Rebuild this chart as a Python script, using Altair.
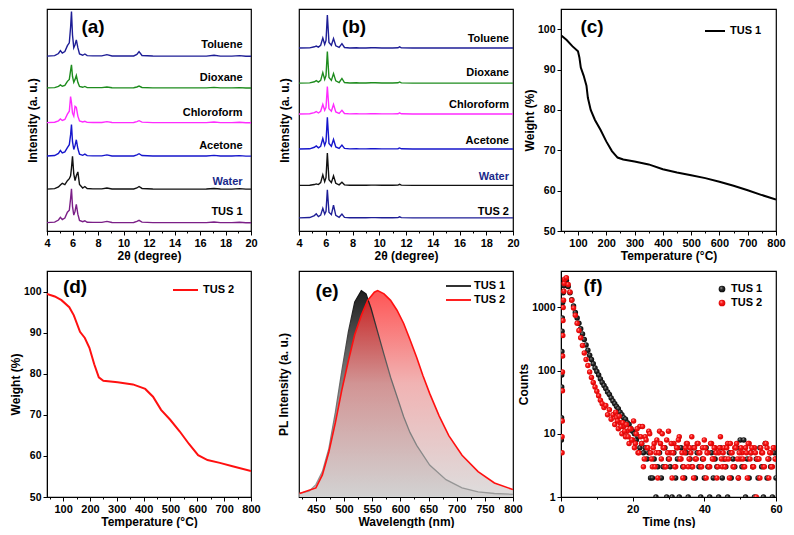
import altair as alt
import pandas as pd

FONT = "Liberation Sans"

# ---------------- (a) PXRD of TUS 1 after solvent treatment ----------------
XRD_A_X = [4.0, 4.6, 4.9, 5.05, 5.2, 5.4, 5.6, 5.75, 5.85, 5.92, 6.0, 6.1, 6.2, 6.3, 6.42,
           6.55, 6.8, 6.97, 7.15, 7.6, 8.3, 8.7, 9.1, 10.0, 10.8, 11.05, 11.22, 11.45, 12.3,
           13.5, 15.0, 16.5, 17.1, 17.6, 18.5, 19.1, 19.6, 20.0]
XRD_A_NAMES = ["Toluene", "Dioxane", "Chloroform", "Acetone", "Water", "TUS 1"]
XRD_A_TOLUENE = [0.3, 0.8, 3, 6, 3.5, 5, 11, 14, 30, 46, 22, 9, 12, 17, 9, 2.5, 1.2, 2.5, 0.8,
                 0.6, 0.6, 1.8, 0.5, 0.4, 0.5, 2, 5, 1, 0.4, 0.3, 0.3, 0.3, 1.2, 0.3, 0.3, 0.8, 0.2, 0.2]
XRD_A_DIOXANE = [0.3, 0.6, 1.8, 3.3, 2, 2.8, 7, 9, 18, 24, 12, 6, 9, 13, 6, 1.8, 0.9, 1.8, 0.6,
                 0.5, 0.5, 1.2, 0.4, 0.3, 0.4, 1.2, 2.2, 0.7, 0.3, 0.3, 0.3, 0.3, 0.8, 0.3, 0.3, 0.6, 0.2, 0.2]
XRD_A_CHLOROFORM = [0.3, 0.7, 2.2, 4, 2.5, 3.5, 9, 12, 27, 21, 10, 7, 17, 16, 7, 2, 1, 1.7, 0.6,
                    0.5, 0.5, 1.3, 0.4, 0.3, 0.4, 1.4, 2.3, 0.8, 0.3, 0.3, 0.3, 0.3, 0.9, 0.3, 0.3, 0.7, 0.2, 0.2]
XRD_A_ACETONE = [0.3, 0.8, 3, 6, 3.5, 4.5, 9, 12, 22, 32.6, 15, 7, 11, 17, 8, 2.2, 1, 2.2, 0.7,
                 0.5, 0.5, 1.5, 0.4, 0.3, 0.4, 1.5, 2.7, 0.8, 0.3, 0.3, 0.3, 0.3, 1, 0.3, 0.3, 0.7, 0.2, 0.2]
XRD_A_WATER = [0.3, 0.8, 2.5, 4.5, 6.3, 5, 9, 11, 14, 22, 34, 16, 9, 14, 18, 5, 1.5, 3, 1,
               0.6, 0.6, 1.5, 0.5, 0.4, 0.5, 1.5, 3, 1, 0.4, 0.3, 0.3, 0.4, 1, 0.4, 0.3, 0.8, 0.3, 0.3]
XRD_A_TUS1 = [0.3, 0.8, 3, 5.7, 3.5, 5, 11, 13, 25, 35, 17, 8, 12, 19, 9, 2.5, 1.2, 2.2, 0.7,
              0.6, 0.6, 1.6, 0.4, 0.3, 0.4, 1.5, 2.7, 0.8, 0.3, 0.3, 0.3, 0.3, 1, 0.3, 0.3, 0.7, 0.2, 0.2]
XRD_A_OFFSET = [179.3, 146.7, 111, 76.7, 42.7, 8.3]
XRD_A_COLORS = ["#1e1e96", "#1e8c1e", "#ff2bff", "#1616cc", "#111111", "#7b1f87"]
XRD_A_LABEL_Y = [190.7, 157.3, 121.7, 87.7, 50.7, 19.3]

# ---------------- (b) PXRD of TUS 2 after solvent treatment ----------------
XRD_B_X = [4.0, 4.8, 5.15, 5.29, 5.45, 5.62, 5.78, 5.92, 6.02, 6.12, 6.24, 6.42, 6.58, 6.75,
           7.0, 7.21, 7.4, 7.8, 8.3, 8.5, 9.0, 9.4, 9.7, 10.2, 11.0, 11.4, 11.52, 11.65, 12.5,
           14, 16, 18, 20]
XRD_B_NAMES = ["Toluene", "Dioxane", "Chloroform", "Acetone", "Water", "TUS 2"]
XRD_B_TOLUENE = [0.2, 0.4, 1.5, 2.3, 1.2, 3, 10.6, 4, 8, 34, 6, 3, 10, 2.5, 0.8, 4.7, 0.8, 0.3,
                 0.5, 0.3, 0.3, 0.5, 0.5, 0.3, 0.3, 0.5, 1.5, 0.4, 0.2, 0.2, 0.2, 0.2, 0.2]
XRD_B_DIOXANE = [0.2, 0.4, 1.6, 2.7, 1.2, 3, 11, 4, 8, 32.7, 6, 3, 10, 2.5, 0.8, 5, 0.8, 0.3,
                 0.5, 0.3, 0.3, 0.5, 0.5, 0.3, 0.3, 0.5, 1.4, 0.4, 0.2, 0.2, 0.2, 0.2, 0.2]
XRD_B_CHLOROFORM = [0.2, 0.4, 1.6, 2.7, 1.2, 3, 10, 4, 7, 28.3, 5.5, 3, 10, 2.3, 0.8, 4, 0.7, 0.3,
                    0.4, 0.3, 0.3, 0.4, 0.4, 0.3, 0.3, 0.4, 1.3, 0.4, 0.2, 0.2, 0.2, 0.2, 0.2]
XRD_B_ACETONE = [0.2, 0.4, 2, 3.3, 1.4, 3, 11, 4, 8, 32.7, 6, 3, 10, 2.4, 0.8, 4.3, 0.8, 0.3,
                 0.5, 0.3, 0.3, 0.5, 0.5, 0.3, 0.3, 0.5, 1.3, 0.4, 0.2, 0.2, 0.2, 0.2, 0.2]
XRD_B_WATER = [0.2, 0.3, 1, 1.7, 1, 3, 11, 4, 8, 33.3, 6, 3, 10, 2.3, 0.7, 3.3, 0.7, 0.3,
               0.4, 0.3, 0.3, 0.4, 0.4, 0.3, 0.3, 0.4, 1.2, 0.4, 0.2, 0.2, 0.2, 0.2, 0.2]
XRD_B_TUS2 = [0.2, 0.5, 2.5, 4.3, 1.5, 3, 10, 4, 7, 29, 6, 3.5, 13.3, 2.8, 0.8, 4, 0.7, 0.3,
              0.4, 0.3, 0.3, 0.4, 0.4, 0.3, 0.3, 0.4, 1.2, 0.4, 0.2, 0.2, 0.2, 0.2, 0.2]
XRD_B_OFFSET = [187.7, 151.7, 120, 84, 46.7, 13.3]
XRD_B_COLORS = ["#1e1e96", "#1e8c1e", "#ff2bff", "#1616cc", "#ff1f3a", "#7b1f87"]
XRD_B_LABEL_Y = [197.7, 162.3, 129.3, 92.3, 55, 20]

XRD_LABEL_COLORS = ["black", "black", "black", "black", "#1a2a8a", "black"]

# ---------------- (c), (d) TGA ----------------
TGA1_T = [40, 60, 80, 100, 105, 110, 120, 130, 135, 145, 160, 180, 200, 220, 240, 260, 300,
          350, 400, 450, 500, 550, 600, 650, 700, 750, 800]
TGA1_W = [98.5, 97.3, 95.8, 94.5, 93, 90.5, 88.5, 86, 83, 80, 77.5, 75, 72.2, 69.8, 68.2,
          67.7, 67.2, 66.5, 65.3, 64.5, 63.8, 63.1, 62.2, 61.2, 60.1, 58.9, 57.8]
TGA2_T = [40, 69, 94, 123, 140, 163, 181, 198, 216, 233, 250, 303, 360, 406, 435, 465, 499,
          534, 569, 603, 638, 684, 731, 800]
TGA2_W = [99.4, 98.8, 97.9, 96.2, 94.2, 90.2, 88.7, 86.3, 82.3, 79.1, 78.3, 77.9, 77.4, 76.3,
          74.4, 71.2, 68.8, 66.0, 62.9, 60.2, 59.0, 58.3, 57.5, 56.3]

# ---------------- (e) PL spectra ----------------
PL1_WL = [421, 438, 450, 461.5, 473, 484.6, 496, 507.7, 519, 530.7, 539, 548, 559.6, 571,
          582.6, 594, 605.7, 617, 629, 652, 681, 709.5, 738, 767, 800]
PL1_I = [0.017, 0.028, 0.06, 0.123, 0.234, 0.41, 0.61, 0.80, 0.945, 1.0, 0.984, 0.913, 0.80,
         0.69, 0.58, 0.487, 0.39, 0.313, 0.25, 0.155, 0.084, 0.044, 0.025, 0.017, 0.013]
PL2_WL = [421, 450, 461.5, 473, 484.6, 496, 507.7, 519, 530.7, 542, 553.8, 559.6, 571, 582.6,
          594, 605.7, 617, 629, 640, 652, 669, 686, 709.5, 738, 767, 800]
PL2_I = [0.017, 0.044, 0.107, 0.218, 0.36, 0.518, 0.66, 0.787, 0.88, 0.953, 0.992, 1.0, 0.984,
         0.953, 0.905, 0.842, 0.763, 0.676, 0.589, 0.502, 0.392, 0.297, 0.202, 0.123, 0.068, 0.036]

# ---------------- (f) PL decay ----------------
DECAY_T = [1.0, 1.5, 2.0, 2.5, 3.0, 3.5, 4.0, 4.5, 5.0, 5.5,
           6.0, 6.5, 7.0, 7.5, 8.0, 8.5, 9.0, 9.5, 10.0, 10.5,
           11.0, 11.5, 12.0, 12.5, 13.0, 13.5, 14.0, 14.5, 15.0, 15.5,
           16.0, 16.5, 17.0, 17.5, 18.0, 18.5, 19.0, 19.5, 20.0, 20.5,
           21.0, 21.5, 22.0, 22.5, 23.0, 23.5, 24.0, 24.5, 25.0, 25.5,
           26.0, 26.5, 27.0, 27.5, 28.0, 28.5, 29.0, 29.5, 30.0, 30.5,
           31.0, 31.5, 32.0, 32.5, 33.0, 33.5, 34.0, 34.5, 35.0, 35.5,
           36.0, 36.5, 37.0, 37.5, 38.0, 38.5, 39.0, 39.5, 40.0, 40.5,
           41.0, 41.5, 42.0, 42.5, 43.0, 43.5, 44.0, 44.5, 45.0, 45.5,
           46.0, 46.5, 47.0, 47.5, 48.0, 48.5, 49.0, 49.5, 50.0, 50.5,
           51.0, 51.5, 52.0, 52.5, 53.0, 53.5, 54.0, 54.5, 55.0, 55.5,
           56.0, 56.5, 57.0, 57.5, 58.0, 58.5, 59.0, 59.5, 60.0]
TUS1_COUNTS = [2500, 2700, 2150, 1700, 1320, 1050, 830, 680, 560, 460,
               380, 310, 255, 210, 175, 150, 128, 110, 97, 85,
               74, 65, 58, 52, 46, 42, 37, 33, 30, 27,
               25, 22, 20, 18, 17, 15, 14, 12, 11, 10,
               8, 9, 6, 7, 5, 6, 4, 5, 2, 2,
               4, 1, 3, 5, 2, 3, 6, 1, 4, 3,
               1, 5, 2, 4, 1, 6, 3, 2, 5, 1,
               4, 3, 6, 2, 5, 3, 1, 4, 2, 6,
               3, 1, 5, 2, 4, 3, 1, 6, 2, 4,
               3, 1, 5, 2, 4, 3, 6, 2, 8, 3,
               8, 1, 4, 2, 5, 3, 1, 4, 2, 6,
               3, 1, 7, 2, 4, 3, 1, 5, 2]
TUS2_COUNTS = [2800, 2950, 2300, 1750, 1300, 980, 750, 560, 430, 330,
               250, 190, 150, 120, 95, 78, 65, 55, 47, 40,
               34, 30, 26, 28, 20, 24, 17, 20, 14, 18,
               12, 15, 10, 13, 9, 11, 7, 12, 8, 6,
               10, 5, 13, 7, 3, 9, 6, 11, 5, 3,
               7, 5, 2, 11, 4, 6, 3, 8, 11, 5,
               2, 7, 3, 6, 9, 4, 2, 5, 7, 3,
               6, 9, 2, 4, 7, 5, 3, 6, 8, 2,
               5, 3, 7, 4, 6, 2, 5, 9, 3, 6,
               4, 7, 2, 5, 3, 6, 7, 2, 4, 5,
               3, 6, 2, 7, 5, 3, 6, 1, 4, 2,
               5, 3, 7, 6, 2, 5, 3, 6, 4]
# interleaved channels of TUS 2 (between the ones above)
TUS2_EXTRA_T = [15.25, 15.75, 16.25, 16.75, 17.25, 17.75, 18.25, 18.75, 19.25, 19.75,
                20.25, 20.75, 21.25, 21.75, 22.25, 22.75, 23.25, 23.75, 24.25, 24.75,
                25.25, 25.75, 26.25, 26.75, 27.25, 27.75, 28.25, 28.75, 29.25, 29.75,
                30.25, 30.75, 31.25, 31.75, 32.25, 32.75, 33.25, 33.75, 34.25, 34.75,
                35.25, 35.75, 36.25, 36.75, 37.25, 37.75, 38.25, 38.75, 39.25, 39.75,
                40.25, 40.75, 41.25, 41.75, 42.25, 42.75, 43.25, 43.75, 44.25, 44.75,
                45.25, 45.75, 46.25, 46.75, 47.25, 47.75, 48.25, 48.75, 49.25, 49.75,
                50.25, 50.75, 51.25, 51.75, 52.25, 52.75, 53.25, 53.75, 54.25, 54.75,
                55.25, 55.75, 56.25, 56.75, 57.25, 57.75, 58.25, 58.75, 59.25, 59.75]
TUS2_EXTRA_C = [22, 16, 19, 13, 15, 11, 14, 9, 12, 8,
                16, 7, 12, 5, 9, 13, 4, 8, 6, 10,
                4, 6, 3, 8, 5, 7, 10, 6, 3, 5,
                4, 7, 5, 3, 6, 8, 4, 5, 3, 6,
                7, 4, 5, 3, 6, 4, 7, 5, 3, 4,
                6, 5, 3, 7, 4, 6, 5, 3, 6, 4,
                5, 3, 6, 4, 7, 5, 3, 6, 4, 5,
                6, 4, 3, 5, 7, 4, 6, 3, 5, 4,
                4, 6, 5, 3, 7, 4, 5, 3, 6, 4]
TUS1_RISE_T = [0.1, 0.15, 0.2, 0.2, 0.25, 0.3, 0.35, 0.45, 0.6, 0.8]
TUS1_RISE_C = [8, 18, 55, 85, 200, 420, 680, 1200, 1700, 2200]
TUS2_RISE_T = [0.3, 0.3, 0.35, 0.4, 0.4, 0.45, 0.5, 0.55, 0.6, 0.7, 0.8, 0.9]
TUS2_RISE_C = [5, 9, 16, 48, 95, 170, 360, 620, 1000, 1300, 1800, 2400]

# ---------------- layout ----------------
W1, W2, W3 = 204, 214, 215
H1, H2 = 222, 226


def one():
    return pd.DataFrame({"k": [0]})


def letter(txt, x, y):
    return alt.Chart(one()).mark_text(fontSize=19, fontWeight="bold", font=FONT, color="black").encode(
        text=alt.value(txt), x=alt.value(x), y=alt.value(y))


def legend_line(x1, x2, y, color, label, tx):
    r = alt.Chart(one()).mark_rule(color=color, strokeWidth=2).encode(
        x=alt.value(x1), x2=alt.value(x2), y=alt.value(y))
    t = alt.Chart(one()).mark_text(align="left", fontSize=11, fontWeight="bold", font=FONT,
                                   color="black").encode(text=alt.value(label), x=alt.value(tx), y=alt.value(y))
    return r + t


def x_axis(title, values, test):
    return alt.Axis(title=title, values=values,
                    labelExpr=f"({test}) ? datum.label : ''",
                    tickSize={"condition": {"test": test, "value": 4}, "value": 2},
                    titlePadding=2, labelOverlap=False)


def xrd_panel(xs, names, series, offsets, colors, label_y, label_x, lt, w, h):
    rows = []
    for name, vals, off in zip(names, series, offsets):
        for x, v in zip(xs, vals):
            rows.append({"x": x, "y": off + v, "s": name})
    df = pd.DataFrame(rows)
    xe = alt.X("x:Q", scale=alt.Scale(domain=[4, 20], nice=False),
               axis=x_axis("2θ (degree)", list(range(4, 21)), "datum.value % 2 === 0"))
    ye = alt.Y("y:Q", scale=alt.Scale(domain=[0, 228], nice=False),
               axis=alt.Axis(title="Intensity (a. u.)", labels=False, ticks=False, domain=False,
                             titlePadding=8))
    lines = alt.Chart(df).mark_line(strokeWidth=1.4, clip=True).encode(
        x=xe, y=ye,
        color=alt.Color("s:N", scale=alt.Scale(domain=names, range=colors), legend=None),
        detail="s:N",
    )
    lab = pd.DataFrame({"x": [label_x] * len(names), "y": label_y, "label": names, "c": XRD_LABEL_COLORS})
    texts = alt.Chart(lab).mark_text(align="right", fontSize=11, fontWeight="bold", font=FONT).encode(
        x=xe, y=ye, text="label:N", color=alt.Color("c:N", scale=None))
    return (lines + texts + letter(lt[0], lt[1], lt[2])).properties(width=w, height=h)


def tga_panel(ts, ws, color, label, lt, leg, w, h):
    df = pd.DataFrame({"T": ts, "W": ws})
    line = alt.Chart(df).mark_line(color=color, strokeWidth=2, clip=True).encode(
        x=alt.X("T:Q", scale=alt.Scale(domain=[40, 800], nice=False),
                axis=x_axis("Temperature (°C)", list(range(50, 801, 50)), "datum.value % 100 === 0")),
        y=alt.Y("W:Q", scale=alt.Scale(domain=[50, 105], nice=False),
                axis=alt.Axis(title="Weight (%)", values=[50, 60, 70, 80, 90, 100], tickSize=4,
                              titlePadding=1, labelPadding=2, labelFontSize=10.5)),
    )
    return (line + legend_line(leg[0], leg[1], leg[2], color, label, leg[3])
            + letter(lt[0], lt[1], lt[2])).properties(width=w, height=h)


panel_a = xrd_panel(XRD_A_X, XRD_A_NAMES,
                    [XRD_A_TOLUENE, XRD_A_DIOXANE, XRD_A_CHLOROFORM, XRD_A_ACETONE, XRD_A_WATER, XRD_A_TUS1],
                    XRD_A_OFFSET, XRD_A_COLORS, XRD_A_LABEL_Y, 19.34, ("(a)", 46, 18), W1, H1)
panel_b = xrd_panel(XRD_B_X, XRD_B_NAMES,
                    [XRD_B_TOLUENE, XRD_B_DIOXANE, XRD_B_CHLOROFORM, XRD_B_ACETONE, XRD_B_WATER, XRD_B_TUS2],
                    XRD_B_OFFSET, XRD_B_COLORS, XRD_B_LABEL_Y, 19.7, ("(b)", 55, 18), W2, H1)
panel_c = tga_panel(TGA1_T, TGA1_W, "black", "TUS 1", ("(c)", 31, 18), (144, 164, 22, 169), W3, H1)
panel_d = tga_panel(TGA2_T, TGA2_W, "#ff1010", "TUS 2", ("(d)", 28, 16), (126, 151, 19, 156), W1, H2)

# (e)
pl_rows = ([{"wl": a, "I": b, "s": "TUS 1"} for a, b in zip(PL1_WL, PL1_I)] +
           [{"wl": a, "I": b, "s": "TUS 2"} for a, b in zip(PL2_WL, PL2_I)])
pl_df = pd.DataFrame(pl_rows)
pl_x = alt.X("wl:Q", scale=alt.Scale(domain=[420, 800], nice=False),
             axis=x_axis("Wavelength (nm)", list(range(425, 801, 25)), "datum.value % 50 === 0"))
pl_y = alt.Y("I:Q", scale=alt.Scale(domain=[0, 1.095], nice=False),
             axis=alt.Axis(title="PL Intensity (a. u.)", labels=False, ticks=False, domain=False, titlePadding=9))
g1 = alt.LinearGradient(gradient="linear", x1=0, x2=0, y1=0, y2=1,
                        stops=[alt.GradientStop(offset=0, color="#1e1e1e"),
                               alt.GradientStop(offset=0.5, color="#8c8c8c"),
                               alt.GradientStop(offset=1, color="#d2d2d2")])
g2 = alt.LinearGradient(gradient="linear", x1=0, x2=0, y1=0, y2=1,
                        stops=[alt.GradientStop(offset=0, color="#ff1c1c"),
                               alt.GradientStop(offset=0.45, color="#ec9a9a"),
                               alt.GradientStop(offset=1, color="#d2d2d2")])
s1 = alt.LinearGradient(gradient="linear", x1=0, x2=0, y1=0, y2=1,
                        stops=[alt.GradientStop(offset=0, color="#111111"),
                               alt.GradientStop(offset=0.4, color="#666666"),
                               alt.GradientStop(offset=1, color="#9a9a9a")])
base_e = alt.Chart(pl_df)
area1 = base_e.transform_filter("datum.s === 'TUS 1'").mark_area(fill=g1, clip=True).encode(x=pl_x, y=pl_y)
area2 = base_e.transform_filter("datum.s === 'TUS 2'").mark_area(fill=g2, opacity=0.75, clip=True).encode(x=pl_x, y=pl_y)
line1 = base_e.transform_filter("datum.s === 'TUS 1'").mark_line(stroke=s1, strokeWidth=1.3, clip=True).encode(x=pl_x, y=pl_y)
line2 = base_e.transform_filter("datum.s === 'TUS 2'").mark_line(color="#ff1010", strokeWidth=1.6, clip=True).encode(x=pl_x, y=pl_y)
panel_e = (area1 + area2 + line1 + line2
           + legend_line(147, 172, 15, "#333333", "TUS 1", 175)
           + legend_line(147, 172, 29, "#ff2020", "TUS 2", 175)
           + letter("(e)", 28, 20)).properties(width=W2, height=H2)

# (f)
f_rows = ([{"t": a, "c": b, "s": "TUS 1"} for a, b in zip(TUS1_RISE_T + DECAY_T, TUS1_RISE_C + TUS1_COUNTS)] +
          [{"t": a, "c": b, "s": "TUS 2"} for a, b in zip(TUS2_RISE_T + DECAY_T + TUS2_EXTRA_T,
                                                            TUS2_RISE_C + TUS2_COUNTS + TUS2_EXTRA_C)])
f_df = pd.DataFrame(f_rows)
f_x = alt.X("t:Q", scale=alt.Scale(domain=[0, 60], nice=False),
            axis=x_axis("Time (ns)", [0, 10, 20, 30, 40, 50, 60], "datum.value % 20 === 0"))
f_y = alt.Y("c:Q", scale=alt.Scale(type="log", domain=[1, 3770], nice=False),
            axis=alt.Axis(title="Counts", values=[1, 10, 100, 1000], format="d", tickSize=4,
                          titlePadding=1, labelPadding=2, labelFontSize=10.5))
rg_black = alt.RadialGradient(gradient="radial", x1=0.35, y1=0.3, r1=0, x2=0.5, y2=0.5, r2=0.55,
                              stops=[alt.GradientStop(offset=0, color="#d8d8d8"),
                                     alt.GradientStop(offset=0.35, color="#333333"),
                                     alt.GradientStop(offset=1, color="#000000")])
rg_red = alt.RadialGradient(gradient="radial", x1=0.35, y1=0.3, r1=0, x2=0.5, y2=0.5, r2=0.55,
                            stops=[alt.GradientStop(offset=0, color="#ffe6e6"),
                                   alt.GradientStop(offset=0.35, color="#ff1a1a"),
                                   alt.GradientStop(offset=1, color="#d00000")])
base_f = alt.Chart(f_df)
pts1 = base_f.transform_filter("datum.s === 'TUS 1'").mark_circle(size=30, fill=rg_black, opacity=1, clip=True).encode(x=f_x, y=f_y)
pts2 = base_f.transform_filter("datum.s === 'TUS 2'").mark_circle(size=30, fill=rg_red, opacity=1, clip=True).encode(x=f_x, y=f_y)
leg_f1 = alt.Chart(one()).mark_circle(size=45, fill=rg_black, opacity=1).encode(x=alt.value(161), y=alt.value(18))
leg_f2 = alt.Chart(one()).mark_circle(size=45, fill=rg_red, opacity=1).encode(x=alt.value(161), y=alt.value(32))
leg_t1 = alt.Chart(one()).mark_text(align="left", fontSize=11, fontWeight="bold", font=FONT, color="black").encode(
    text=alt.value("TUS 1"), x=alt.value(170), y=alt.value(18))
leg_t2 = alt.Chart(one()).mark_text(align="left", fontSize=11, fontWeight="bold", font=FONT, color="black").encode(
    text=alt.value("TUS 2"), x=alt.value(170), y=alt.value(32))
panel_f = (pts1 + pts2 + leg_f1 + leg_f2 + leg_t1 + leg_t2 + letter("(f)", 32, 15)).properties(width=W3, height=H2)

chart = alt.concat(panel_a, panel_b, panel_c, panel_d, panel_e, panel_f,
                   columns=3, spacing={"row": 40, "column": 48}, bounds="flush", align="each").properties(
    padding=0, background="white"
).configure_view(stroke="black", strokeWidth=1.2).configure_axis(
    labelFont=FONT, labelFontWeight="bold", labelFontSize=11, labelColor="black",
    titleFont=FONT, titleFontWeight="bold", titleFontSize=12, titleColor="black",
    domainColor="black", tickColor="black", grid=False, labelFlush=False, labelPadding=2,
    labelOverlap=False,
)

chart.save("out.html", embed_options={"renderer": "svg", "actions": False})
